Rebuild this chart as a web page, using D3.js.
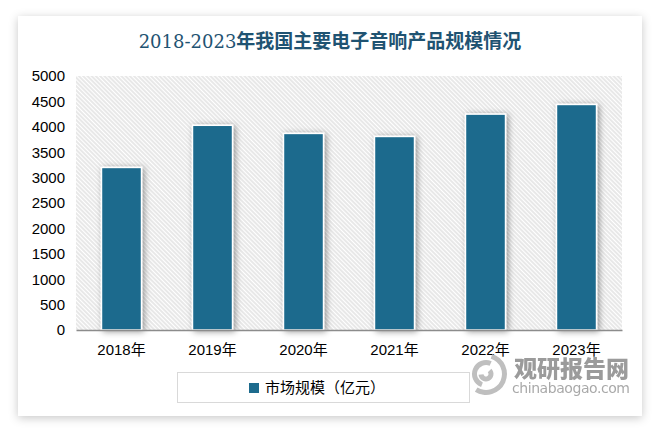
<!DOCTYPE html>
<html>
<head>
<meta charset="utf-8">
<script src="https://cdn.jsdelivr.net/npm/d3@7"></script>
<style>
  body { margin: 0; background: #fff; }
</style>
</head>
<body>
<script>
// 数据
const years = ["2018年", "2019年", "2020年", "2021年", "2022年", "2023年"];
const marketSize = [3200, 4030, 3870, 3810, 4250, 4440];
const yTicks = [0, 500, 1000, 1500, 2000, 2500, 3000, 3500, 4000, 4500, 5000];
const titleYears = "2018-2023";
const titleText = "年我国主要电子音响产品规模情况";
const seriesName = "市场规模（亿元）";

const w = 659;
const h = 432;
const plot = { left: 76, right: 622, top: 76, bottom: 330 };
const barColor = "#1d6b8d";

const svg = d3.select("body").append("svg").attr("width", w).attr("height", h);
const defs = svg.append("defs");

// 卡片阴影
const cardShadow = defs.append("filter").attr("id", "cardShadow")
  .attr("x", "-10%").attr("y", "-10%").attr("width", "120%").attr("height", "120%");
cardShadow.append("feDropShadow").attr("dx", 0).attr("dy", 2).attr("stdDeviation", 5)
  .attr("flood-color", "#000").attr("flood-opacity", 0.22);

// 柱子阴影
const barShadow = defs.append("filter").attr("id", "barShadow")
  .attr("x", "-30%").attr("y", "-10%").attr("width", "160%").attr("height", "130%");
barShadow.append("feDropShadow").attr("dx", 2).attr("dy", 1).attr("stdDeviation", 3)
  .attr("flood-color", "#000").attr("flood-opacity", 0.4);

// 斜线底纹（\\ 方向）
const hatch = defs.append("pattern").attr("id", "hatch")
  .attr("patternUnits", "userSpaceOnUse").attr("width", 3).attr("height", 3)
  .attr("patternTransform", "rotate(45)");
hatch.append("rect").attr("width", 3).attr("height", 3).attr("fill", "#fff");
hatch.append("line").attr("x1", 0).attr("y1", 1).attr("x2", 3).attr("y2", 1)
  .attr("stroke", "#d2d2d2").attr("stroke-width", 1);

// 白色卡片
svg.append("rect")
  .attr("x", 18).attr("y", 16).attr("width", 624).attr("height", 400)
  .attr("fill", "#fff").attr("filter", "url(#cardShadow)");

// 标题
const t = svg.append("text")
  .attr("x", 330).attr("y", 48)
  .attr("text-anchor", "middle")
  .attr("font-size", "19px")
  .attr("fill", "#1f5372");
t.append("tspan")
  .attr("font-family", "'DejaVu Serif', serif")
  .attr("font-size", "18px")
  .text(titleYears);
t.append("tspan")
  .attr("font-family", "'Noto Sans CJK SC', sans-serif")
  .attr("font-weight", "bold")
  .text(titleText);

const x = d3.scaleBand().domain(years).range([plot.left, plot.right]).paddingInner(0.56).paddingOuter(0.28);
const y = d3.scaleLinear().domain([0, 5000]).range([plot.bottom, plot.top]);

// 绘图区底纹
svg.append("rect")
  .attr("x", plot.left).attr("y", plot.top)
  .attr("width", plot.right - plot.left).attr("height", plot.bottom - plot.top)
  .attr("fill", "url(#hatch)");

// 柱子
svg.selectAll("rect.bar")
  .data(marketSize)
  .enter()
  .append("rect")
  .attr("class", "bar")
  .attr("x", (d, i) => x(years[i]))
  .attr("y", (d) => y(d))
  .attr("width", x.bandwidth())
  .attr("height", (d) => y(0) - y(d))
  .attr("fill", barColor)
  .attr("stroke", "#fff")
  .attr("stroke-width", 1.5)
  .attr("filter", "url(#barShadow)");

// Y 轴
const yAxis = svg.append("g")
  .attr("transform", `translate(${plot.left},0)`)
  .call(d3.axisLeft(y).tickValues(yTicks).tickSize(0).tickPadding(11).tickFormat(d3.format("d")));
yAxis.select(".domain").remove();
yAxis.selectAll("text")
  .attr("font-family", "'Liberation Sans', sans-serif")
  .attr("font-size", "15px")
  .attr("fill", "#000");

// X 轴
const xAxis = svg.append("g")
  .attr("transform", `translate(0,${plot.bottom})`)
  .call(d3.axisBottom(x).tickSize(0).tickPadding(14));
xAxis.select(".domain").attr("stroke", "#8c8c8c").attr("stroke-width", 1.5);
xAxis.selectAll("text")
  .attr("font-family", "'Liberation Sans', 'Noto Sans CJK SC', sans-serif")
  .attr("font-size", "15px")
  .attr("fill", "#000");

// 水印
const wm = svg.append("g").attr("opacity", 0.85);
const logo = wm.append("g").attr("transform", "translate(486,374)");
[[21, 0.3, 3.7], [14, 3.5, 6.7], [7.5, 0.8, 4.6]].forEach(([r, a0, a1]) => {
  logo.append("path")
    .attr("d", d3.arc().innerRadius(r - 5).outerRadius(r)({ startAngle: a0, endAngle: a1 }))
    .attr("fill", "#b4b4b4");
});
wm.append("text")
  .attr("x", 514).attr("y", 377)
  .attr("font-family", "'Noto Sans CJK SC', sans-serif")
  .attr("font-size", "23px").attr("font-weight", "900")
  .attr("fill", "#8a8a8a")
  .text("观研报告网");
wm.append("text")
  .attr("x", 512).attr("y", 393)
  .attr("textLength", 118)
  .attr("font-family", "'DejaVu Sans', sans-serif")
  .attr("font-size", "14px")
  .attr("fill", "#9a9a9a")
  .text("chinabaogao.com");

// 图例
svg.append("rect")
  .attr("x", 177.5).attr("y", 372.5).attr("width", 292).attr("height", 30)
  .attr("fill", "none").attr("stroke", "#d9d9d9");
svg.append("rect")
  .attr("x", 249).attr("y", 383).attr("width", 10).attr("height", 10)
  .attr("fill", barColor);
svg.append("text")
  .attr("x", 265).attr("y", 393)
  .attr("font-family", "'Noto Sans CJK SC', sans-serif")
  .attr("font-size", "15px")
  .attr("fill", "#000")
  .text(seriesName);
</script>
</body>
</html>
